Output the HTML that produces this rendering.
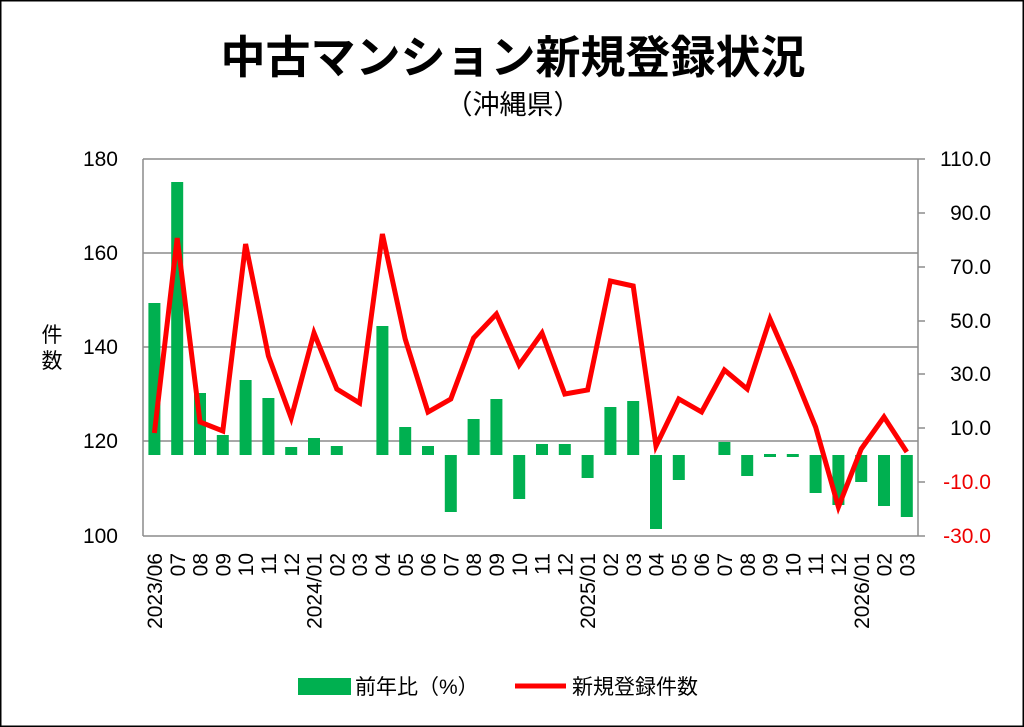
<!DOCTYPE html>
<html><head><meta charset="utf-8"><style>
html,body{margin:0;padding:0;background:#fff}
svg{display:block}
text{font-family:"Liberation Sans","Noto Sans CJK JP",sans-serif}
</style></head><body>
<svg width="1024" height="727" viewBox="0 0 1024 727" xmlns="http://www.w3.org/2000/svg">
<rect x="0.5" y="0.5" width="1023" height="726" fill="#fff" stroke="#000" stroke-width="2"/>
<text x="513" y="73" text-anchor="middle" font-size="45" font-weight="bold" fill="#000">中古マンション新規登録状況</text>
<text x="513" y="114" text-anchor="middle" font-size="27" fill="#000">（沖縄県）</text>
<g stroke="#8c8c8c" stroke-width="1.5" fill="none">
<line x1="143" y1="159" x2="918" y2="159"/>
<line x1="143" y1="253" x2="918" y2="253"/>
<line x1="143" y1="347" x2="918" y2="347"/>
<line x1="143" y1="441" x2="918" y2="441"/>
<line x1="143" y1="536" x2="918" y2="536"/>
<line x1="143" y1="159" x2="143" y2="536"/>
<line x1="918" y1="159" x2="918" y2="536"/>
<line x1="918" y1="213" x2="925" y2="213"/><line x1="918" y1="267" x2="925" y2="267"/>
<line x1="918" y1="321" x2="925" y2="321"/><line x1="918" y1="374" x2="925" y2="374"/>
<line x1="918" y1="428" x2="925" y2="428"/><line x1="918" y1="482" x2="925" y2="482"/>
<line x1="918" y1="159" x2="925" y2="159"/><line x1="918" y1="536" x2="925" y2="536"/>
</g>
<g font-size="21" fill="#000" text-anchor="end">
<text x="118" y="166">180</text><text x="118" y="260">160</text><text x="118" y="354">140</text><text x="118" y="448">120</text><text x="118" y="543">100</text>
</g>
<g font-size="21" fill="#000" text-anchor="end">
<text x="991" y="166">110.0</text><text x="991" y="220">90.0</text><text x="991" y="274">70.0</text><text x="991" y="328">50.0</text><text x="991" y="381">30.0</text><text x="991" y="435">10.0</text>
<text x="991" y="489" fill="#e00">-10.0</text><text x="991" y="543" fill="#e00">-30.0</text>
</g>
<text x="52" y="342" text-anchor="middle" font-size="21">件</text>
<text x="52" y="368" text-anchor="middle" font-size="21">数</text>
<g fill="#00b050">
<rect x="148.4" y="303" width="12" height="152"/>
<rect x="171.2" y="182" width="12" height="273"/>
<rect x="194" y="393" width="12" height="62"/>
<rect x="216.8" y="435" width="12" height="20"/>
<rect x="239.6" y="380" width="12" height="75"/>
<rect x="262.4" y="398" width="12" height="57"/>
<rect x="285.2" y="447" width="12" height="8"/>
<rect x="308" y="438" width="12" height="17"/>
<rect x="330.8" y="446" width="12" height="9"/>
<rect x="376.4" y="326" width="12" height="129"/>
<rect x="399.2" y="427" width="12" height="28"/>
<rect x="422" y="446" width="12" height="9"/>
<rect x="444.8" y="455" width="12" height="57"/>
<rect x="467.6" y="419" width="12" height="36"/>
<rect x="490.4" y="399" width="12" height="56"/>
<rect x="513.2" y="455" width="12" height="44"/>
<rect x="536" y="444" width="12" height="11"/>
<rect x="558.8" y="444" width="12" height="11"/>
<rect x="581.6" y="455" width="12" height="23"/>
<rect x="604.4" y="407" width="12" height="48"/>
<rect x="627.2" y="401" width="12" height="54"/>
<rect x="650" y="455" width="12" height="74"/>
<rect x="672.8" y="455" width="12" height="25"/>
<rect x="718.4" y="442" width="12" height="13"/>
<rect x="741.2" y="455" width="12" height="21"/>
<rect x="764" y="454" width="12" height="3"/>
<rect x="786.8" y="454" width="12" height="3"/>
<rect x="809.6" y="455" width="12" height="38"/>
<rect x="832.4" y="455" width="12" height="50"/>
<rect x="855.2" y="455" width="12" height="27"/>
<rect x="878" y="455" width="12" height="51"/>
<rect x="900.8" y="455" width="12" height="62"/>
</g>
<polyline fill="none" stroke="#f00" stroke-width="5" stroke-linejoin="miter" points="154.4,433 177.2,238 200,422 222.8,431 245.6,244 268.4,356 291.2,418 314,333 336.8,389 359.6,403 382.4,234 405.2,339 428,412 450.8,399 473.6,338 496.4,314 519.2,365 542,333 564.8,394 587.6,390 610.4,281 633.2,286 656,446 678.8,399 701.6,412 724.4,370 747.2,389 770,319 792.8,371 815.6,427 838.4,507 861.2,449 884,417 906.8,452"/>
<g font-size="21" fill="#000" text-anchor="end">
<text transform="translate(162,553) rotate(-90)">2023/06</text>
<text transform="translate(184.8,553) rotate(-90)">07</text>
<text transform="translate(207.6,553) rotate(-90)">08</text>
<text transform="translate(230.4,553) rotate(-90)">09</text>
<text transform="translate(253.2,553) rotate(-90)">10</text>
<text transform="translate(276,553) rotate(-90)">11</text>
<text transform="translate(298.8,553) rotate(-90)">12</text>
<text transform="translate(321.6,553) rotate(-90)">2024/01</text>
<text transform="translate(344.4,553) rotate(-90)">02</text>
<text transform="translate(367.2,553) rotate(-90)">03</text>
<text transform="translate(390,553) rotate(-90)">04</text>
<text transform="translate(412.8,553) rotate(-90)">05</text>
<text transform="translate(435.6,553) rotate(-90)">06</text>
<text transform="translate(458.4,553) rotate(-90)">07</text>
<text transform="translate(481.2,553) rotate(-90)">08</text>
<text transform="translate(504,553) rotate(-90)">09</text>
<text transform="translate(526.8,553) rotate(-90)">10</text>
<text transform="translate(549.6,553) rotate(-90)">11</text>
<text transform="translate(572.4,553) rotate(-90)">12</text>
<text transform="translate(595.2,553) rotate(-90)">2025/01</text>
<text transform="translate(618,553) rotate(-90)">02</text>
<text transform="translate(640.8,553) rotate(-90)">03</text>
<text transform="translate(663.6,553) rotate(-90)">04</text>
<text transform="translate(686.4,553) rotate(-90)">05</text>
<text transform="translate(709.2,553) rotate(-90)">06</text>
<text transform="translate(732,553) rotate(-90)">07</text>
<text transform="translate(754.8,553) rotate(-90)">08</text>
<text transform="translate(777.6,553) rotate(-90)">09</text>
<text transform="translate(800.4,553) rotate(-90)">10</text>
<text transform="translate(823.2,553) rotate(-90)">11</text>
<text transform="translate(846,553) rotate(-90)">12</text>
<text transform="translate(868.8,553) rotate(-90)">2026/01</text>
<text transform="translate(891.6,553) rotate(-90)">02</text>
<text transform="translate(914.4,553) rotate(-90)">03</text>
</g>
<rect x="298" y="678" width="53" height="17" fill="#00b050"/>
<text x="355" y="694" font-size="21">前年比（%）</text>
<line x1="515" y1="686" x2="566" y2="686" stroke="#f00" stroke-width="5"/>
<text x="572" y="694" font-size="21">新規登録件数</text>
</svg>
</body></html>
